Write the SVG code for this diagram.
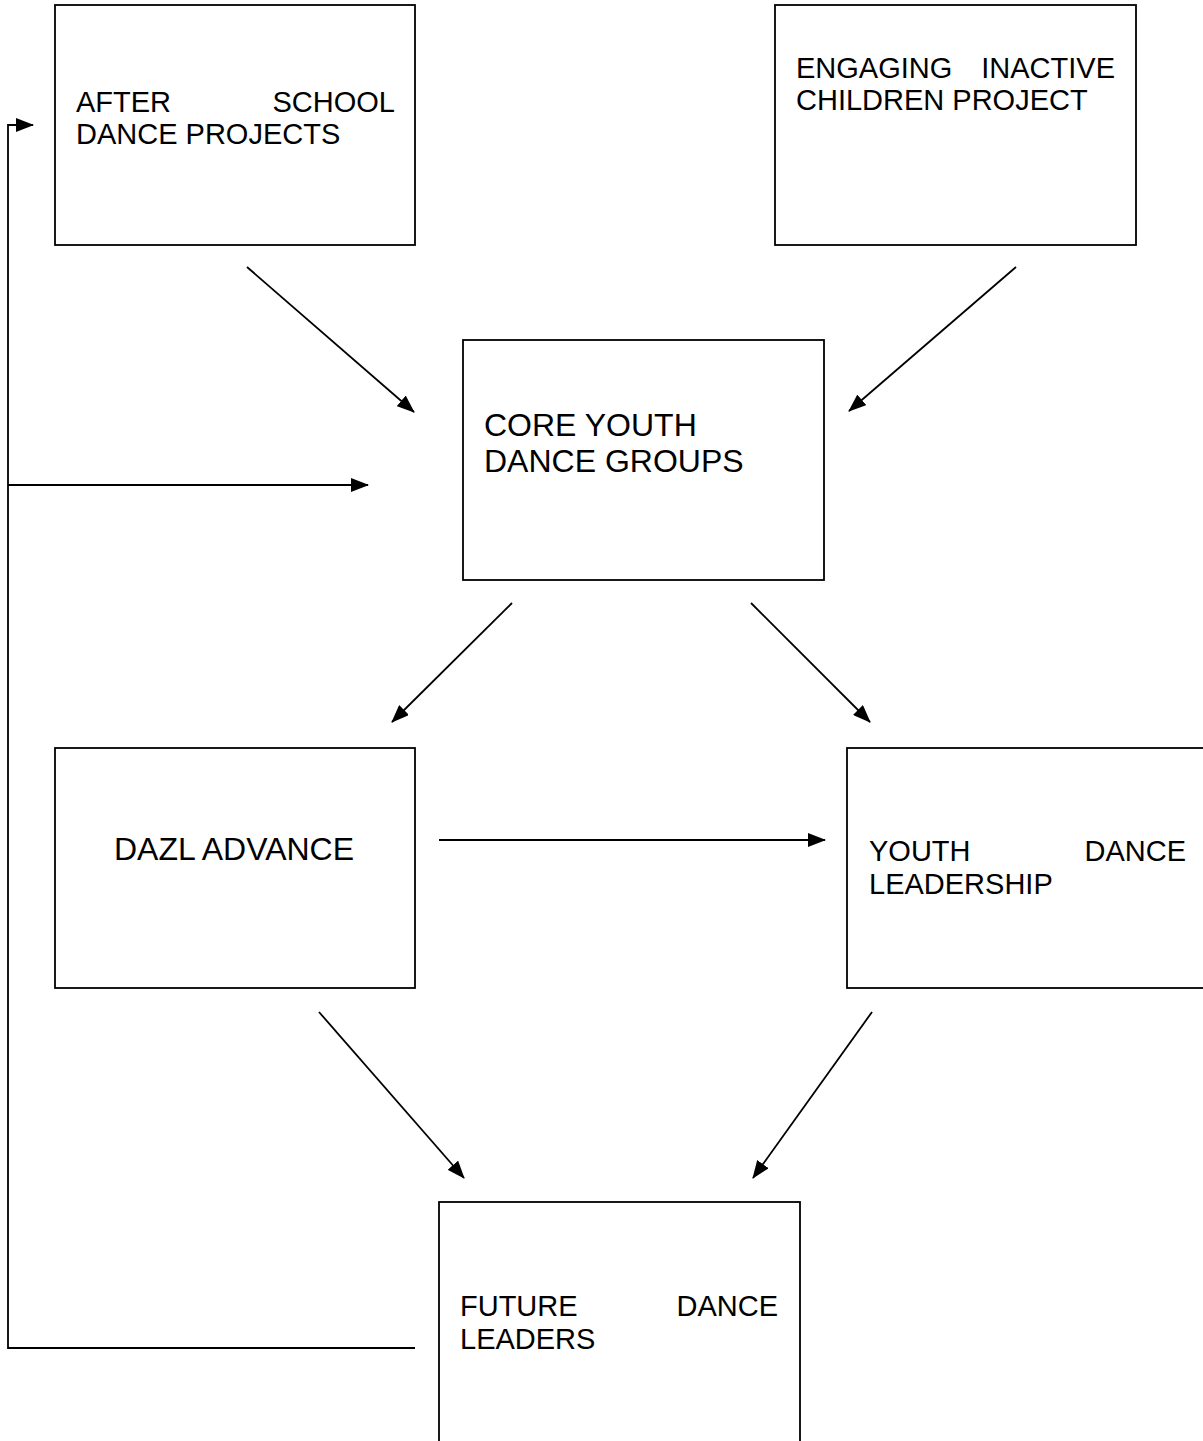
<svg xmlns="http://www.w3.org/2000/svg" width="1203" height="1441" viewBox="0 0 1203 1441">
<style>
.box{fill:#fff;stroke:#000;stroke-width:1.8}
.t{font-family:"Liberation Sans",Arial,sans-serif;font-size:29px;fill:#000}
.big{font-size:32px}
.c{fill:none;stroke:#000;stroke-width:1.8}
</style>
<defs>
<marker id="ah" markerUnits="userSpaceOnUse" markerWidth="18" markerHeight="14" refX="17" refY="7" orient="auto">
<path d="M0,0 L18,7 L0,14 z" fill="#000"/>
</marker>
</defs>
<rect width="1203" height="1441" fill="#fff"/>
<g id="after-school">
<rect class="box" x="55" y="5" width="360" height="240"/>
<text class="t" x="76" y="112">AFTER</text>
<text class="t" x="395" y="112" text-anchor="end">SCHOOL</text>
<text class="t" x="76" y="144">DANCE PROJECTS</text>
</g>
<g id="engaging">
<rect class="box" x="775" y="5" width="361" height="240"/>
<text class="t" x="796" y="78">ENGAGING</text>
<text class="t" x="1115" y="78" text-anchor="end">INACTIVE</text>
<text class="t" x="796" y="110">CHILDREN PROJECT</text>
</g>
<g id="core">
<rect class="box" x="463" y="340" width="361" height="240"/>
<text class="t big" x="484" y="436">CORE YOUTH</text>
<text class="t big" x="484" y="472">DANCE GROUPS</text>
</g>
<g id="dazl">
<rect class="box" x="55" y="748" width="360" height="240"/>
<text class="t big" x="114" y="860">DAZL ADVANCE</text>
</g>
<g id="youth-leadership">
<rect class="box" x="847" y="748" width="370" height="240"/>
<text class="t" x="869" y="861">YOUTH</text>
<text class="t" x="1186" y="861" text-anchor="end">DANCE</text>
<text class="t" x="869" y="894">LEADERSHIP</text>
</g>
<g id="future">
<rect class="box" x="439" y="1202" width="361" height="260"/>
<text class="t" x="460" y="1316">FUTURE</text>
<text class="t" x="778" y="1316" text-anchor="end">DANCE</text>
<text class="t" x="460" y="1349">LEADERS</text>
</g>
<g id="connectors">
<line class="c" x1="247" y1="267" x2="414" y2="412" marker-end="url(#ah)"/>
<line class="c" x1="1016" y1="267" x2="849" y2="411" marker-end="url(#ah)"/>
<line class="c" x1="8" y1="485" x2="368" y2="485" marker-end="url(#ah)"/>
<line class="c" x1="512" y1="603" x2="392" y2="722" marker-end="url(#ah)"/>
<line class="c" x1="751" y1="603" x2="870" y2="722" marker-end="url(#ah)"/>
<line class="c" x1="439" y1="840" x2="825" y2="840" marker-end="url(#ah)"/>
<line class="c" x1="319" y1="1012" x2="464" y2="1178" marker-end="url(#ah)"/>
<line class="c" x1="872" y1="1012" x2="753" y2="1178" marker-end="url(#ah)"/>
<polyline class="c" points="415,1348 8,1348 8,125 33,125" marker-end="url(#ah)"/>
</g>
</svg>
